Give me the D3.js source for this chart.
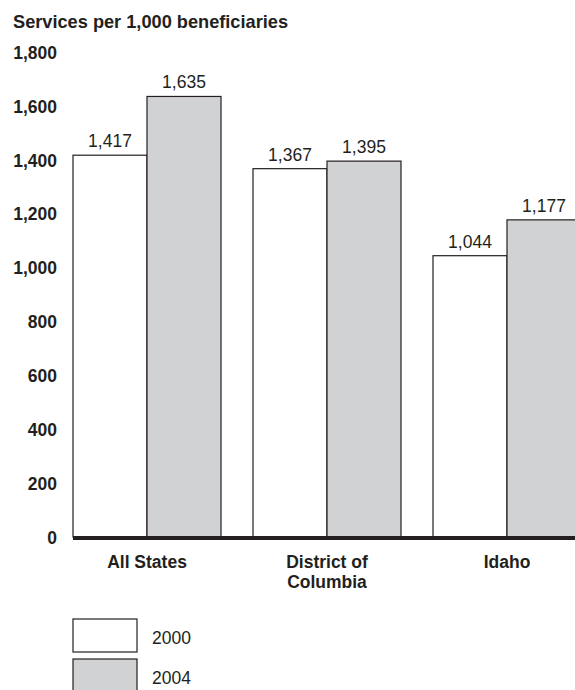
<!DOCTYPE html>
<html>
<head>
<meta charset="utf-8">
<script src="https://cdn.jsdelivr.net/npm/d3@7"></script>
<style>
  body { margin: 0; background: #fff; }
  text { font-family: "Liberation Sans", Arial, sans-serif; fill: #231f20; }
</style>
</head>
<body>
<script>
// values
const categories = ["All States", "District of Columbia", "Idaho"];
const categoryLines = [["All States"], ["District of", "Columbia"], ["Idaho"]];
const years = ["2000", "2004"];
const values2000 = [1417, 1367, 1044];
const values2004 = [1635, 1395, 1177];
const yTicks = [0, 200, 400, 600, 800, 1000, 1200, 1400, 1600, 1800];

const w = 575;
const h = 690;

const color = d3.scaleOrdinal().domain(years).range(["#ffffff", "#d1d2d4"]);

const svg = d3.select('body')
  .append('svg')
  .attr('width', w)
  .attr('height', h);

svg.append('text')
  .attr('x', 13)
  .attr('y', 28)
  .style('font-size', '18.2px')
  .style('font-weight', 'bold')
  .text('Services per 1,000 beneficiaries');

const y = d3.scaleLinear().domain([0, 1800]).range([537, 52]);

// groups step 180px, each group 148px wide (2 bars of 74)
const x0 = d3.scaleBand()
  .domain(categories)
  .range([73, 581])
  .paddingInner(32 / 180)
  .paddingOuter(0);
const x1 = d3.scaleBand().domain(years).range([0, x0.bandwidth()]);

const yAxis = d3.axisLeft(y).tickValues(yTicks).tickFormat(d3.format(',')).tickSize(0).tickPadding(0);
const yg = svg.append('g')
  .attr('transform', 'translate(57,0)')
  .call(yAxis);
yg.select('.domain').remove();
yg.selectAll('text')
  .style('font-size', '17.5px')
  .style('font-weight', 'bold')
  .attr('dy', '0.36em');
yg.attr('font-family', null).attr('font-size', null);

const rows = categories.map((c, i) => ({ cat: c, vals: [values2000[i], values2004[i]] }));

const groups = svg.selectAll('.grp')
  .data(rows)
  .enter()
  .append('g')
  .attr('class', 'grp')
  .attr('transform', d => 'translate(' + x0(d.cat) + ',0)');

groups.selectAll('rect')
  .data(d => d.vals.map((v, j) => ({ year: years[j], v: v })))
  .enter()
  .append('rect')
  .attr('x', d => x1(d.year))
  .attr('y', d => y(d.v))
  .attr('width', x1.bandwidth())
  .attr('height', d => y(0) - y(d.v))
  .style('fill', d => color(d.year))
  .style('stroke', '#231f20')
  .style('stroke-width', 1.2);

groups.selectAll('.val')
  .data(d => d.vals.map((v, j) => ({ year: years[j], v: v })))
  .enter()
  .append('text')
  .attr('class', 'val')
  .attr('x', d => x1(d.year) + x1.bandwidth() / 2)
  .attr('y', d => y(d.v) - 8)
  .attr('text-anchor', 'middle')
  .style('font-size', '17.5px')
  .text(d => d3.format(',')(d.v));

// baseline
svg.append('line')
  .attr('x1', 73)
  .attr('x2', w)
  .attr('y1', y(0) + 1)
  .attr('y2', y(0) + 1)
  .style('stroke', '#231f20')
  .style('stroke-width', 4);

// category labels
groups.each(function (d, i) {
  const t = d3.select(this).append('text')
    .attr('x', x0.bandwidth() / 2)
    .attr('y', 568)
    .attr('text-anchor', 'middle')
    .style('font-size', '17.5px')
    .style('font-weight', 'bold');
  categoryLines[i].forEach((line, k) => {
    t.append('tspan')
      .attr('x', x0.bandwidth() / 2)
      .attr('dy', k === 0 ? 0 : 20)
      .text(line);
  });
});

// legend
const legend = svg.append('g').attr('id', 'legend');
const lg = legend.selectAll('g')
  .data(years)
  .enter()
  .append('g')
  .attr('transform', (d, i) => 'translate(73,' + (619 + i * 40) + ')');
lg.append('rect')
  .attr('width', 64)
  .attr('height', 33)
  .style('fill', color)
  .style('stroke', '#231f20')
  .style('stroke-width', 1.2);
lg.append('text')
  .attr('x', 79)
  .attr('y', 19)
  .attr('dy', '0.36em')
  .style('font-size', '17.5px')
  .text(d => d);
</script>
</body>
</html>
